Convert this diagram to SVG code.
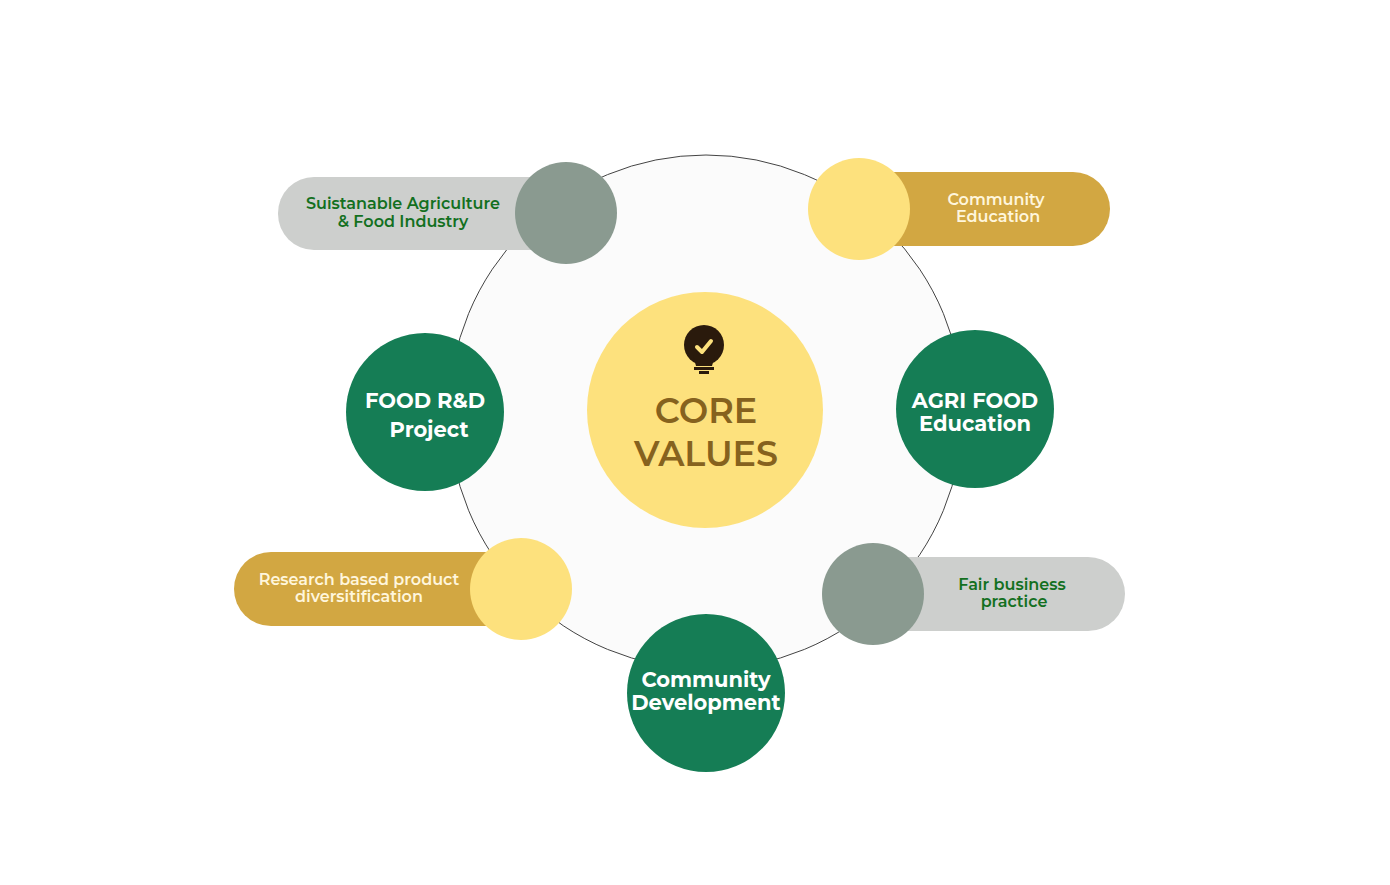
<svg xmlns="http://www.w3.org/2000/svg" width="1390" height="885" viewBox="0 0 1390 885">
<style>
.t{font-family:Montserrat,"Noto Sans","Liberation Sans",sans-serif;font-weight:600;text-anchor:middle}
.w{fill:#fff;font-weight:700;font-size:21px}
.g{fill:#13701f;font-size:16px}
.y{fill:#fff6dc;font-size:16px}
</style>
<rect width="1390" height="885" fill="#fff"/>
<g id="connectors"><circle cx="706" cy="412" r="257" fill="#fbfbfb" stroke="#444" stroke-width="1"/></g>
<g id="center"><circle cx="705" cy="410" r="118" fill="#fde17d"/>
<circle cx="704" cy="345" r="20" fill="#2a1a0c"/><path d="M693 355 L715 355 L712 366 L696 366Z" fill="#2a1a0c"/>
<rect x="694" y="367" width="20" height="3" fill="#2a1a0c"/><rect x="699" y="371" width="10" height="3" fill="#2a1a0c"/>
<path d="M697 347 L702 352 L711 341" stroke="#fde17d" stroke-width="4" fill="none" stroke-linecap="round" stroke-linejoin="round"/>
<text class="t" x="706" y="423" font-size="35" font-weight="800" fill="#86621e">CORE</text>
<text class="t" x="706" y="466" font-size="35" font-weight="800" fill="#86621e">VALUES</text></g>
<g id="n1"><rect x="278" y="177" width="300" height="73" rx="36" fill="#cdcfcd"/><circle cx="566" cy="213" r="51" fill="#8a9a90"/>
<text class="t g" x="403" y="209">Suistanable Agriculture</text><text class="t g" x="403" y="227">&amp; Food Industry</text></g>
<g id="n2"><rect x="840" y="172" width="270" height="74" rx="37" fill="#d2a742"/><circle cx="859" cy="209" r="51" fill="#fde17d"/>
<text class="t y" x="996" y="205">Community</text><text class="t y" x="998" y="222">Education</text></g>
<g id="n3"><circle cx="425" cy="412" r="79" fill="#157d55"/>
<text class="t w" x="425" y="408">FOOD R&amp;D</text><text class="t w" x="429" y="437">Project</text></g>
<g id="n4"><circle cx="975" cy="409" r="79" fill="#157d55"/>
<text class="t w" x="975" y="408">AGRI FOOD</text><text class="t w" x="975" y="431">Education</text></g>
<g id="n5"><rect x="234" y="552" width="300" height="74" rx="37" fill="#d2a742"/><circle cx="521" cy="589" r="51" fill="#fde17d"/>
<text class="t y" x="359" y="585">Research based product</text><text class="t y" x="359" y="602">diversitification</text></g>
<g id="n6"><rect x="840" y="557" width="285" height="74" rx="37" fill="#cdcfcd"/><circle cx="873" cy="594" r="51" fill="#8a9a90"/>
<text class="t g" x="1012" y="590">Fair business</text><text class="t g" x="1014" y="607">practice</text></g>
<g id="n7"><circle cx="706" cy="693" r="79" fill="#157d55"/>
<text class="t w" x="706" y="687" font-size="19">Community</text><text class="t w" x="706" y="710" font-size="19">Development</text></g>
</svg>
